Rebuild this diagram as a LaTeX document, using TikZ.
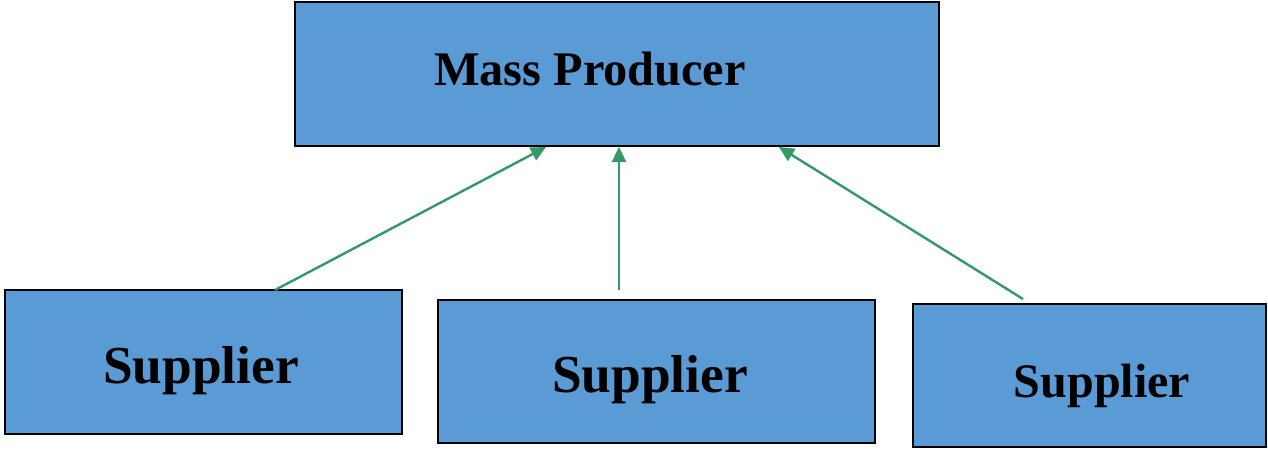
\documentclass[tikz,border=0pt]{standalone}
\usepackage{fontspec}
\setmainfont{Liberation Serif}
\usetikzlibrary{arrows.meta}
\definecolor{boxblue}{HTML}{5B9BD5}
\definecolor{linkgreen}{HTML}{339966}
\begin{document}
\begin{tikzpicture}[x=1pt,y=-1pt,
  box/.style={draw=black,line width=2.4pt,fill=boxblue,inner sep=0pt},
  label text/.style={inner sep=0pt,anchor=base},
  link/.style={draw=linkgreen,line width=2.4pt,-{Triangle[length=15pt,width=14pt]}}]
\useasboundingbox (0,0) rectangle (1268,450);
% boxes
\node[box,minimum width=644pt,minimum height=144pt] (mp) at (617,74) {};
\node[box,minimum width=397pt,minimum height=144pt] (s1) at (203.5,362) {};
\node[box,minimum width=437pt,minimum height=143pt] (s2) at (656.5,371.5) {};
\node[box,minimum width=353pt,minimum height=143pt] (s3) at (1089.5,375.5) {};
% texts, placed on their baselines
\node[label text,font=\fontsize{48.3}{52}\selectfont\bfseries] (tmp) at (590,85) {Mass Producer};
\node[label text,font=\fontsize{53.4}{57}\selectfont\bfseries] (t1) at (201,383) {Supplier};
\node[label text,font=\fontsize{53.4}{57}\selectfont\bfseries] (t2) at (650,392) {Supplier};
\node[label text,font=\fontsize{48.1}{52}\selectfont\bfseries] (t3) at (1102,397) {Supplier};
% connector end points
\coordinate (a1) at (275,290);
\coordinate (a2) at (619,290);
\coordinate (a3) at (1023,299);
\coordinate (b1) at (546,147);
\coordinate (b2) at (619,147);
\coordinate (b3) at (779,147);
\draw[link] (a1) -- (b1);
\draw[link] (a2) -- (b2);
\draw[link] (a3) -- (b3);
\end{tikzpicture}
\end{document}
